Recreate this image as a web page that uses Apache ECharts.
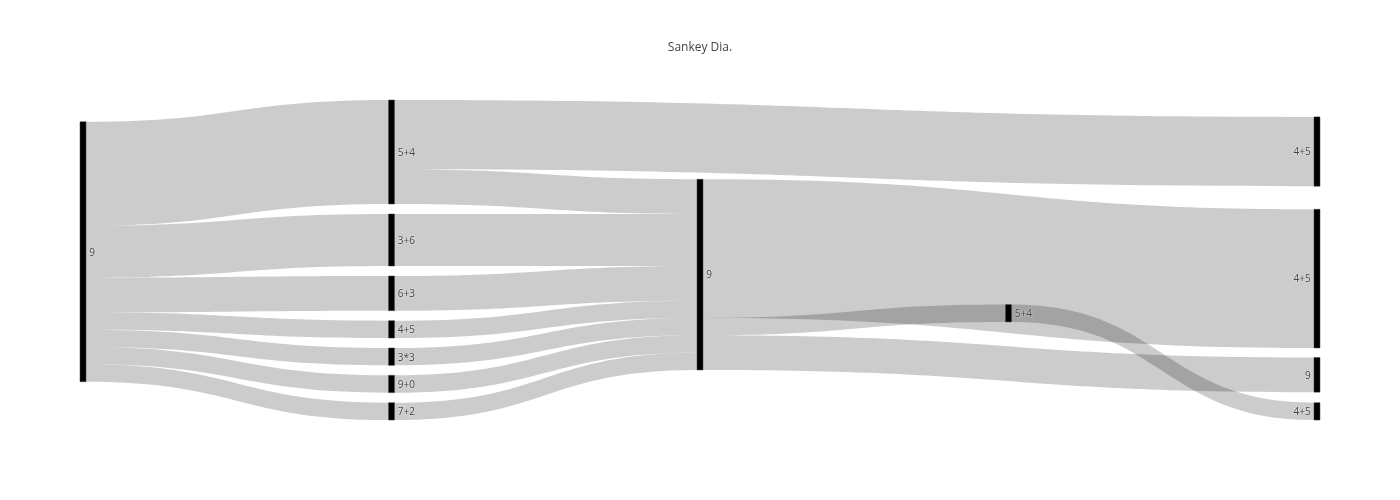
<!DOCTYPE html>
<html><head><meta charset="utf-8">
<script src="https://cdn.jsdelivr.net/npm/echarts@6/dist/echarts.min.js"></script>
<style>html,body{margin:0;padding:0;background:#fff}#c{width:1400px;height:500px}</style>
</head><body><div id="c"></div>
<script>
// ---- data ----
const nodeLabels  = ['9','5+4','3+6','6+3','4+5','3*3','9+0','7+2','9','5+4','4+5','4+5','9','4+5'];
const nodeColumns = [0,1,1,1,1,1,1,1,2,3,4,4,4,4];
const linkSources = [0,0,0,0,0,0,0,1,1,2,3,4,5,6,7,8,8,8,9];
const linkTargets = [1,2,3,4,5,6,7,10,8,8,8,8,8,8,8,11,9,12,13];
const linkValues  = [6,3,2,1,1,1,1,4,2,3,2,1,1,1,1,8,1,2,1];

// ---- layout (node top edge, px, page coords) ----
const nodeTopPx = [121.7,100,214,276,320.7,348,375.3,402.7,179.3,304.6,116.9,209.3,357.5,402.7];
const AREA_TOP = 100, AREA_H = 320, LAST_COL = 4;

const nodes = [];
nodeLabels.forEach((lab, i) => {
  if (i === 9) {
    // invisible spacer keeping link ordering in column 3
    nodes.push({name: 'spacer', depth: 3, value: 6,
      itemStyle: {opacity: 0, borderWidth: 0}, label: {show: false},
      emphasis: {disabled: true}, silent: true});
  }
  nodes.push({
    name: 'n' + i,
    depth: nodeColumns[i],
    localY: (nodeTopPx[i] - AREA_TOP) / AREA_H,
    label: {formatter: lab, position: nodeColumns[i] === LAST_COL ? 'left' : 'right'}
  });
});
const links = linkSources.map((s, k) => ({source: 'n' + s, target: 'n' + linkTargets[k], value: linkValues[k]}));

const chart = echarts.init(document.getElementById('c'));
chart.setOption({
  backgroundColor: '#fff',
  animation: false,
  title: {
    text: 'Sankey Dia.', left: 'center', top: 37,
    textStyle: {fontFamily: 'Open Sans', fontSize: 12, fontWeight: 'normal', color: '#444'}
  },
  series: [{
    type: 'sankey',
    left: 80, right: 80, top: AREA_TOP, bottom: 500 - AREA_TOP - AREA_H,
    nodeWidth: 6, nodeGap: 10, layoutIterations: 0, draggable: false,
    emphasis: {disabled: true},
    itemStyle: {color: '#000', borderColor: '#444', borderWidth: 0.5},
    lineStyle: {color: '#000', opacity: 0.2, curveness: 0.5},
    label: {fontFamily: 'Open Sans', fontSize: 10, color: '#444', distance: 3, offset: [0, 1],
      textShadowColor: '#fff', textShadowBlur: 2},
    data: nodes,
    links: links
  }]
});
</script></body></html>
